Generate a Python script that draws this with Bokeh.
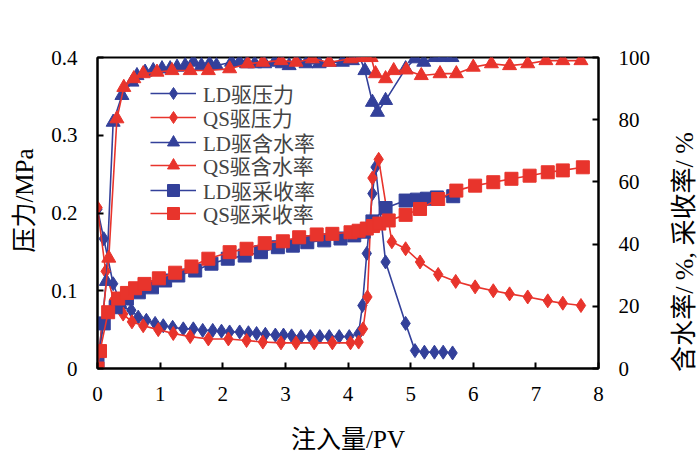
from bokeh.plotting import figure
from bokeh.layouts import row
from bokeh.models import Range1d, LinearAxis, FixedTicker, Legend
from bokeh.embed import file_html
from bokeh.resources import INLINE

# Injection volume (PV) and pressure (MPa)
ld_p_x = [0, 0.1, 0.25, 0.39, 0.54, 0.65, 0.78, 0.92, 1.05, 1.2, 1.37, 1.53, 1.68, 1.84,
          1.98, 2.11, 2.27, 2.41, 2.54, 2.68, 2.84, 2.97, 3.1, 3.25, 3.4, 3.55, 3.7, 3.86,
          4.02, 4.17, 4.23, 4.3, 4.39, 4.44, 4.6, 4.92, 5.07, 5.22, 5.38, 5.52, 5.67]
ld_p = [0.205, 0.167, 0.109, 0.079, 0.075, 0.066, 0.062, 0.058, 0.055, 0.053, 0.051, 0.051,
        0.049, 0.049, 0.048, 0.047, 0.047, 0.046, 0.045, 0.044, 0.043, 0.043, 0.042, 0.041,
        0.041, 0.041, 0.041, 0.041, 0.041, 0.045, 0.081, 0.148, 0.225, 0.259, 0.137, 0.058,
        0.023, 0.021, 0.021, 0.021, 0.020]

qs_p_x = [0, 0.13, 0.26, 0.41, 0.55, 0.73, 0.97, 1.21, 1.48, 1.77, 2.09, 2.38, 2.64, 2.93,
          3.17, 3.46, 3.75, 4.04, 4.17, 4.24, 4.31, 4.39, 4.49, 4.7, 4.92, 5.15, 5.44, 5.72,
          6.03, 6.32, 6.58, 6.87, 7.19, 7.43, 7.72]
qs_p = [0.207, 0.125, 0.088, 0.07, 0.06, 0.055, 0.05, 0.045, 0.041, 0.038, 0.038, 0.036,
        0.034, 0.033, 0.033, 0.033, 0.033, 0.033, 0.034, 0.051, 0.092, 0.245, 0.269, 0.163,
        0.154, 0.137, 0.121, 0.112, 0.105, 0.1, 0.096, 0.092, 0.087, 0.084, 0.081]

# Water cut (%)
ld_w_x = [0, 0.14, 0.25, 0.39, 0.55, 0.63, 0.76, 0.89, 1.03, 1.16, 1.27, 1.4, 1.53, 1.66,
          1.79, 1.9, 2.14, 2.27, 2.38, 2.51, 2.67, 2.83, 2.95, 3.06, 3.19, 3.33, 3.54, 3.7,
          3.91, 4.07, 4.19, 4.27, 4.39, 4.47, 4.6, 4.92, 5.07, 5.21, 5.39, 5.52, 5.66]
ld_w = [0, 28.0, 79.2, 87.8, 92.1, 94.2, 95.3, 95.8, 96.4, 96.4, 96.9, 97.4, 98.5, 97.4,
        98.0, 97.4, 98.5, 98.5, 98.0, 98.0, 98.0, 98.5, 98.0, 97.4, 99.0, 98.0, 98.0, 98.5,
        98.5, 99.0, 100, 95.8, 85.6, 82.4, 86.2, 96.4, 99.6, 98.5, 100, 100, 100]

qs_w_x = [0, 0.18, 0.31, 0.42, 0.58, 0.73, 0.95, 1.19, 1.48, 1.77, 2.11, 2.4, 2.64, 2.93,
          3.17, 3.43, 3.7, 4.04, 4.21, 4.29, 4.37, 4.44, 4.6, 4.73, 4.93, 5.17, 5.47, 5.73,
          6.0, 6.29, 6.58, 6.87, 7.16, 7.43, 7.72]
qs_w = [0, 35.5, 80.3, 90.4, 93.2, 94.8, 95.3, 95.8, 95.8, 95.8, 96.4, 98.0, 98.5, 99.0,
        98.5, 99.6, 98.5, 99.6, 100, 100, 100, 94.8, 93.2, 95.8, 96.0, 94.2, 94.8, 94.8,
        96.9, 98.0, 97.4, 98.0, 99.0, 99.0, 99.0]

# Recovery factor (%)
ld_r_x = [0, 0.1, 0.29, 0.47, 0.66, 0.87, 1.08, 1.29, 1.56, 1.82, 2.08, 2.35, 2.61, 2.88,
          3.12, 3.35, 3.62, 3.88, 4.1, 4.25, 4.39, 4.6, 4.92, 5.1, 5.26, 5.42, 5.68]
ld_r = [2.0, 14.5, 19.7, 22.5, 24.5, 26.1, 28.3, 29.9, 31.5, 33.7, 35.3, 36.3, 37.4, 39.0,
        39.5, 40.6, 41.2, 41.8, 42.8, 44.0, 47.3, 51.6, 54.0, 54.3, 54.6, 55.0, 55.4]

qs_r_x = [0, 0.04, 0.17, 0.33, 0.47, 0.6, 0.75, 0.98, 1.24, 1.5, 1.77, 2.11, 2.38, 2.67,
          2.96, 3.22, 3.5, 3.75, 4.04, 4.17, 4.3, 4.4, 4.5, 4.65, 4.92, 5.15, 5.44, 5.73,
          6.03, 6.32, 6.61, 6.9, 7.19, 7.43, 7.75]
qs_r = [0, 5.6, 18.1, 22.5, 24.3, 25.8, 27.2, 29.0, 30.8, 32.8, 35.3, 37.4, 38.5, 40.3,
        40.9, 42.2, 43.1, 43.3, 43.8, 44.3, 45.0, 45.8, 46.6, 47.6, 49.4, 51.3, 54.5, 57.2,
        58.8, 59.9, 61.0, 62.0, 63.1, 63.7, 64.7]

x_ticks = [0, 1, 2, 3, 4, 5, 6, 7, 8]
left_ticks = [0, 0.1, 0.2, 0.3, 0.4]
right_ticks = [0, 20, 40, 60, 80, 100]

BLUE = "#33409A"
RED = "#E8342C"
SERIF = "'Liberation Serif', 'Noto Sans CJK SC'"
NBSP = "\u00a0"

p = figure(width=653, height=460, output_backend="svg", toolbar_location=None,
           x_range=Range1d(0, 8), y_range=Range1d(0, 0.4),
           min_border_left=97, min_border_right=52, min_border_top=57, min_border_bottom=92)
p.extra_y_ranges = {"pct": Range1d(0, 100)}
p.grid.visible = False
p.outline_line_color = "black"
p.outline_line_width = 2
p.background_fill_color = "white"
p.border_fill_color = "white"

right_axis = LinearAxis(y_range_name="pct")
p.add_layout(right_axis, "right")

for ax in (p.xaxis[0], p.yaxis[0], right_axis):
    ax.axis_line_width = 2
    ax.major_tick_line_width = 2
    ax.major_tick_in = 6
    ax.major_tick_out = 0
    ax.minor_tick_line_color = None
    ax.major_label_text_font = SERIF
    ax.major_label_text_font_size = "21px"
    ax.major_label_text_color = "black"
    ax.axis_label_text_font = SERIF
    ax.axis_label_text_font_size = "25px"
    ax.axis_label_text_font_style = "normal"
    ax.axis_label_text_color = "black"

p.xaxis[0].ticker = FixedTicker(ticks=x_ticks)
p.xaxis[0].major_label_standoff = 18
p.xaxis[0].axis_label = "注入量/PV"
p.xaxis[0].axis_label_standoff = 22

p.yaxis[0].ticker = FixedTicker(ticks=left_ticks)
p.yaxis[0].major_label_overrides = {0: "0"}
p.yaxis[0].major_label_standoff = 20
p.yaxis[0].axis_label = NBSP * 4 + "压力/MPa"
p.yaxis[0].axis_label_standoff = 10

right_axis.ticker = FixedTicker(ticks=right_ticks)
right_axis.major_label_standoff = 20

entries = []

def series(xs, ys, color, marker, size, label, rng=None):
    kw = {} if rng is None else {"y_range_name": rng}
    ln = p.line(xs, ys, line_color=color, line_width=1.6, **kw)
    mk = p.scatter(xs, ys, marker=marker, size=size, fill_color=color, line_color=color, **kw)
    entries.append((label, [ln, mk]))

series(ld_p_x, ld_p, BLUE, "diamond", 14, "LD驱压力")
series(qs_p_x, qs_p, RED, "diamond", 14, "QS驱压力")
series(ld_w_x, ld_w, BLUE, "triangle", 14, "LD驱含水率", "pct")
series(qs_w_x, qs_w, RED, "triangle", 14, "QS驱含水率", "pct")
series(ld_r_x, ld_r, BLUE, "square", 13, "LD驱采收率", "pct")
series(qs_r_x, qs_r, RED, "square", 13, "QS驱采收率", "pct")

# one single-entry legend per series, stacked with a tight row pitch
row_offsets = [260, 236, 211, 188, 163, 140]
for entry, off in zip(entries, row_offsets):
    lg = Legend(items=[entry], location=(53, off), padding=0, margin=0, spacing=0,
                glyph_width=46, glyph_height=30, label_height=20, label_standoff=7,
                label_text_font=SERIF, label_text_font_size="21px",
                border_line_color=None, background_fill_alpha=0)
    p.add_layout(lg)

# narrow strip carrying the right-hand title, read bottom-to-top like a left axis title
side = figure(width=47, height=460, output_backend="svg", toolbar_location=None,
              x_range=Range1d(0, 1), y_range=Range1d(0, 1), x_axis_location=None,
              min_border_left=45, min_border_right=0, min_border_top=57, min_border_bottom=92)
side.outline_line_color = None
side.grid.visible = False
side.border_fill_color = "white"
side.background_fill_color = "white"
sa = side.yaxis[0]
sa.ticker = FixedTicker(ticks=[])
sa.axis_line_color = None
sa.major_tick_line_color = None
sa.minor_tick_line_color = None
sa.axis_label = "含水率/ %,  采收率/ %" + NBSP * 11
sa.axis_label_standoff = 0
sa.axis_label_text_font = SERIF
sa.axis_label_text_font_size = "26px"
sa.axis_label_text_font_style = "normal"
sa.axis_label_text_color = "black"

layout = row(p, side, spacing=0)

open("out.html", "w").write(file_html(layout, INLINE))
